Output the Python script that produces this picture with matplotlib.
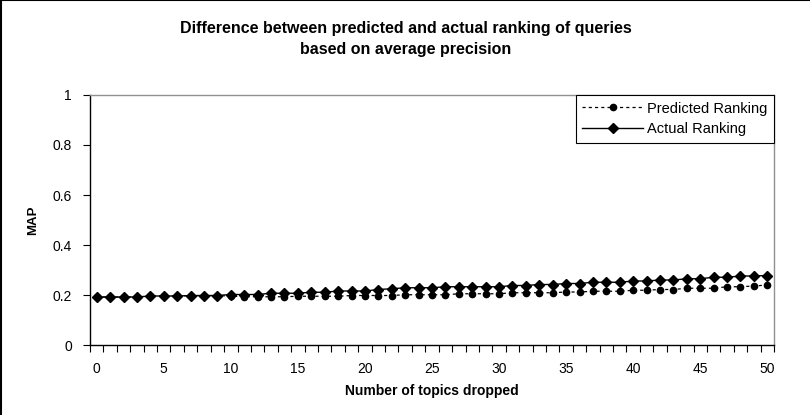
import matplotlib
matplotlib.use('Agg')
import matplotlib.pyplot as plt
from matplotlib.lines import Line2D

plt.rcParams['font.family'] = ['Liberation Sans', 'DejaVu Sans']

# number of topics dropped (category axis)
topics = list(range(0, 51))

actual = [0.192, 0.192, 0.192, 0.192, 0.196, 0.196, 0.196, 0.198, 0.198, 0.198,
          0.202, 0.202, 0.202, 0.207, 0.207, 0.207, 0.211, 0.211, 0.216, 0.216,
          0.216, 0.222, 0.225, 0.229, 0.229, 0.229, 0.233, 0.233, 0.233, 0.233,
          0.233, 0.238, 0.238, 0.242, 0.242, 0.246, 0.246, 0.251, 0.251, 0.251,
          0.256, 0.256, 0.260, 0.260, 0.265, 0.265, 0.271, 0.271, 0.276, 0.276,
          0.278]

predicted = [0.192, 0.192, 0.192, 0.192, 0.196, 0.196, 0.196, 0.197, 0.197, 0.197,
             0.196, 0.193, 0.193, 0.193, 0.193, 0.195, 0.195, 0.195, 0.195, 0.198,
             0.198, 0.198, 0.198, 0.201, 0.201, 0.201, 0.201, 0.205, 0.205, 0.205,
             0.205, 0.209, 0.209, 0.209, 0.209, 0.212, 0.212, 0.215, 0.215, 0.215,
             0.219, 0.219, 0.222, 0.222, 0.227, 0.227, 0.227, 0.233, 0.233, 0.236,
             0.240]

x_labels = [0, 5, 10, 15, 20, 25, 30, 35, 40, 45, 50]
y_ticks = [0, 0.2, 0.4, 0.6, 0.8, 1]
y_labels = ['0', '0.2', '0.4', '0.6', '0.8', '1']

fig = plt.figure(figsize=(8.1, 4.15), dpi=100)
ax = fig.add_axes([90 / 810, 1 - 345 / 415, (774 - 90) / 810, (345 - 95) / 415])

ax.plot(topics, predicted, color='black', linestyle=(0, (2.5, 2.5)), linewidth=0.9,
        marker='o', markersize=4.5, label='Predicted Ranking')
ax.plot(topics, actual, color='black', linestyle='-', linewidth=1.0,
        marker='D', markersize=5, label='Actual Ranking')

ax.set_xlim(-0.5, 50.5)
ax.set_ylim(0, 1)

# category axis: labels on category centres, tick marks on boundaries
ax.set_xticks(x_labels)
ax.set_xticklabels([str(v) for v in x_labels])
ax.set_xticks([i - 0.5 for i in range(0, 52)], minor=True)
ax.tick_params(axis='x', which='major', length=0, pad=12, labelsize=10)
ax.tick_params(axis='x', which='minor', length=5, width=0.8, direction='out')

ax.set_yticks(y_ticks)
ax.set_yticklabels(y_labels)
ax.tick_params(axis='y', length=5, width=0.8, direction='out', pad=8, labelsize=10)

for side in ['top', 'right']:
    ax.spines[side].set_color('#909090')
    ax.spines[side].set_linewidth(1.0)
for side in ['left', 'bottom']:
    ax.spines[side].set_color('black')
    ax.spines[side].set_linewidth(1.0)

ax.set_xlabel('Number of topics dropped', fontsize=10, fontweight='bold', labelpad=6)
ax.set_ylabel('MAP', fontsize=9.5, fontweight='bold', labelpad=10)

leg = ax.legend(loc='upper right', bbox_to_anchor=(1, 1), borderaxespad=0,
                fancybox=False, edgecolor='black', framealpha=1, fontsize=10.5,
                handlelength=4.2, handletextpad=0.25, borderpad=0.45,
                labelspacing=0.45, numpoints=1)
leg.get_frame().set_linewidth(0.8)

fig.text(0.501, 0.906, 'Difference between predicted and actual ranking of queries\n'
         'based on average precision', ha='center', va='center',
         fontsize=11.5, fontweight='bold', linespacing=1.45)

# chart area border: only the left and top edges show in the reference
fig.add_artist(Line2D([0.001, 0.001], [0, 1], transform=fig.transFigure,
                      color='black', linewidth=1.5))
fig.add_artist(Line2D([0, 1], [0.999, 0.999], transform=fig.transFigure,
                      color='black', linewidth=1.5))

plt.savefig('out.png', dpi=100)
plt.close('all')
